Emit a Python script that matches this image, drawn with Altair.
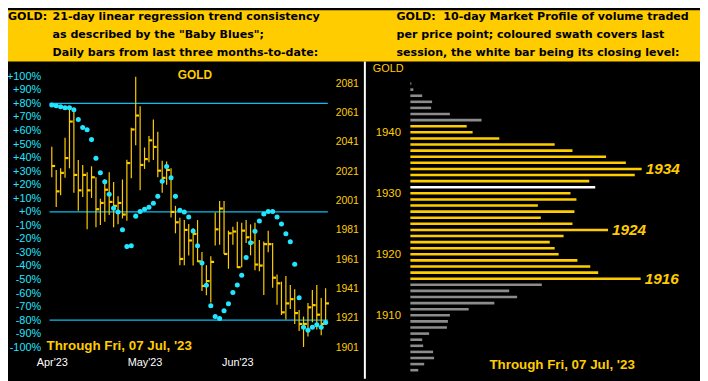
import altair as alt
import pandas as pd

# ---------------- Left panel data: daily bars (USD) and "Baby Blues" (%) ----------------
highs = [2037.8, 2021.9, 2023.0, 2043.9, 2065.3, 2063.0, 2028.6, 2025.3, 2020.3, 2024.4,
         2016.9, 2002.3, 2015.4, 2020.3, 2013.6, 2003.9, 2015.4, 2028.9, 2050.7, 2085.5,
         2065.3, 2037.2, 2045.0, 2056.3, 2048.0, 2028.2, 2027.7, 2023.0, 1997.4, 1989.3,
         1987.7, 1985.0, 1982.1, 1987.7, 1965.9, 1956.9, 1963.0, 1992.9, 2000.8, 2000.8,
         1980.5, 1983.2, 1986.6, 1985.9, 1987.7, 1984.8, 1985.9, 1974.2, 1973.1, 1980.5,
         1972.0, 1950.6, 1945.7, 1949.5, 1943.5, 1940.5, 1926.4, 1921.9, 1931.1, 1940.1,
         1943.5, 1934.5, 1941.2]
lows = [2016.9, 1996.7, 2004.6, 2016.5, 2023.0, 2006.4, 1994.0, 2003.5, 1981.4, 2002.8,
        1982.8, 1984.3, 1986.6, 1991.1, 1982.8, 1984.8, 1988.8, 1987.3, 2016.3, 2038.7,
        2008.0, 2022.6, 2027.1, 2028.6, 2016.9, 2006.4, 2011.8, 1989.5, 1978.7, 1956.9,
        1956.9, 1963.5, 1956.7, 1959.2, 1939.4, 1936.5, 1931.5, 1970.4, 1970.9, 1964.6,
        1954.5, 1970.9, 1955.1, 1955.6, 1972.0, 1963.7, 1953.5, 1952.9, 1936.7, 1965.7,
        1941.6, 1930.0, 1923.0, 1919.9, 1927.0, 1916.9, 1912.0, 1901.2, 1908.4, 1918.0,
        1913.1, 1909.1, 1916.3]
closes = [2024.6, 2007.3, 2019.9, 2030.0, 2054.9, 2018.5, 2008.0, 2018.5, 2008.0, 2016.9,
          1995.1, 1999.4, 2008.4, 2000.1, 1997.4, 1999.4, 1991.5, 2026.6, 2049.5, 2059.0,
          2025.3, 2029.3, 2042.1, 2037.6, 2021.4, 2016.5, 2021.9, 1993.3, 1986.2, 1961.2,
          1981.0, 1973.8, 1978.3, 1959.6, 1942.8, 1946.1, 1959.2, 1981.4, 1995.6, 1964.6,
          1978.7, 1979.9, 1955.6, 1980.5, 1976.0, 1972.4, 1957.4, 1956.7, 1971.3, 1971.3,
          1948.4, 1944.6, 1924.8, 1930.9, 1933.8, 1924.3, 1916.9, 1916.9, 1928.2, 1929.7,
          1923.2, 1916.9, 1930.9]
baby_blues = [78.8, 78.3, 77.6, 76.8, 76.8, 75.4, 68.1, 62.3, 60.6, 53.3,
              39.5, 28.9, 22.1, 12.9, 2.7, -0.2, -13.3, -25.7, -25.0, -3.2,
              0.2, 1.9, 3.4, 6.3, 11.4, 22.5, 33.5, 25.2, 11.4, 1.2,
              -0.2, -3.9, -14.1, -25.0, -37.8, -54.3, -69.3, -77.3, -78.8, -73.0,
              -67.9, -59.6, -54.1, -46.8, -33.7, -22.8, -14.3, -6.8, -1.7, 0.2,
              0.2, -3.9, -9.0, -16.2, -22.1, -38.8, -63.5, -85.3, -87.5, -85.3,
              -83.4, -85.3, -81.7]
month_labels = ["Apr'23", "May'23", "Jun'23"]
month_bar_index = [0, 21, 42]
pct_ticks = [-100, -90, -80, -70, -60, -50, -40, -30, -20, -10, 0,
             10, 20, 30, 40, 50, 60, 70, 80, 90, 100]
price_ticks = [1901, 1921, 1941, 1961, 1981, 2001, 2021, 2041, 2061, 2081]
trend_levels = [80, 0, -80]

# ---------------- Right panel data: 10-day market profile ----------------
profile_prices = [1948, 1947, 1946, 1945, 1944, 1943, 1942, 1941, 1940, 1939,
                  1938, 1937, 1936, 1935, 1934, 1933, 1932, 1931, 1930, 1929,
                  1928, 1927, 1926, 1925, 1924, 1923, 1922, 1921, 1920, 1919,
                  1918, 1917, 1916, 1915, 1914, 1913, 1912, 1911, 1910, 1909,
                  1908, 1907, 1906, 1905, 1904, 1903, 1902, 1901]
profile_volume = [3, 9, 36, 66, 63, 120, 216, 171, 189, 270,
                  438, 492, 594, 654, 702, 681, 543, 561, 486, 504,
                  387, 498, 396, 492, 600, 465, 423, 438, 450, 507,
                  546, 570, 699, 399, 300, 324, 255, 177, 120, 114,
                  111, 57, 36, 39, 69, 72, 42, 24]
swath_low, swath_high = 1916, 1941
close_level = 1931
peak_labels = [1934, 1924, 1916]
profile_ticks = [1910, 1920, 1930, 1940]

W, H = 700, 373
GOLD = "#FFCC00"
CYAN = "#22E6FF"
LINE = "#0BBEF0"
FONT = "Liberation Sans"
HFONT = "DejaVu Sans"

n = len(highs)
bars = pd.DataFrame({"i": list(range(n)), "high": highs, "low": lows,
                     "close": closes, "bb": baby_blues})
bars["i2"] = bars["i"] + 0.75
levels = pd.DataFrame({"lvl": trend_levels})
levels["x0"] = -0.5
levels["x1"] = n - 0.5

prof = pd.DataFrame({"p": profile_prices, "v": profile_volume})
prof["kind"] = ["close" if p == close_level else ("swath" if swath_low <= p <= swath_high else "other")
                for p in profile_prices]
peaks = prof[prof["p"].isin(peak_labels)].copy()
peaks["lab"] = peaks["p"].astype(str)

# ---------------- scales ----------------
def sc(domain, rng):
    return alt.Scale(domain=domain, range=rng, nice=False, zero=False, padding=0)

xs = sc([0, n - 1], [44.3, 321.3])
pct_s = sc([-100, 100], [341, 67])
price_s = sc([1901, 2081], [341, 74])
vol_s = sc([0, 702], [407, 641])
prof_s = sc([1900, 1950], [370.4, 61.9])

base_axis = dict(domain=False, ticks=False, grid=False, title=None, labelFont=FONT,
                 labelOverlap=False)

month_expr = "[" + ",".join('"%s"' % m for m in month_labels) + "][indexof([" + \
    ",".join(str(v) for v in month_bar_index) + "], datum.value)]"

def txt(text, x, y, font=FONT, **kw):
    return alt.Chart(pd.DataFrame({"t": [text]})).mark_text(font=font, **kw).encode(
        text="t:N", x=alt.value(x), y=alt.value(y))

# header
header = alt.Chart(pd.DataFrame({"a": [0]})).mark_rect(color=GOLD).encode(
    x=alt.value(0), x2=alt.value(W), y=alt.value(0), y2=alt.value(52))
hdr = dict(font=HFONT, fontSize=11.2, fontWeight="bold", color="black", align="left",
           baseline="middle")
header_texts = [
    txt("GOLD:", 0, 7, **hdr),
    txt("21-day linear regression trend consistency", 45, 7, **hdr),
    txt('as described by the "Baby Blues";', 45, 25, **hdr),
    txt("Daily bars from last three months-to-date:", 45, 43, **hdr),
    txt("GOLD:\u00a0 10-day Market Profile of volume traded", 393, 7, **hdr),
    txt("per price point; coloured swath covers last", 393, 25, **hdr),
    txt("session, the white bar being its closing level:", 393, 43, **hdr),
]

# left panel
lvl_layer = alt.Chart(levels).mark_rule(color=LINE, strokeWidth=1.2).encode(
    x=alt.X("x0:Q", scale=xs, axis=None), x2="x1:Q",
    y=alt.Y("lvl:Q", scale=pct_s, axis=None))

hl_layer = alt.Chart(bars).mark_rule(color=GOLD, strokeWidth=1.2).encode(
    x=alt.X("i:Q", scale=xs, axis=None),
    y=alt.Y("low:Q", scale=price_s,
            axis=alt.Axis(orient="right", offset=-(W - 329), values=price_ticks, format="d",
                          labelColor=GOLD, labelFontSize=10.5, labelPadding=2, **base_axis)),
    y2="high:Q")

close_layer = alt.Chart(bars).mark_rule(color=GOLD, strokeWidth=2.2).encode(
    x=alt.X("i:Q", scale=xs, axis=None), x2="i2:Q",
    y=alt.Y("close:Q", scale=price_s, axis=None))

dot_layer = alt.Chart(bars).mark_point(filled=True, size=26, color=CYAN, opacity=1).encode(
    x=alt.X("i:Q", scale=xs,
            axis=alt.Axis(orient="bottom", offset=-(H - 349), values=month_bar_index,
                          labelExpr=month_expr, labelColor="white", labelFontSize=11,
                          labelPadding=1, labelFlush=False, **base_axis)),
    y=alt.Y("bb:Q", scale=pct_s,
            axis=alt.Axis(orient="left", offset=-35, values=pct_ticks,
                          labelExpr="(datum.value >= 0 ? '+' : '') + datum.value + '%'",
                          labelColor=CYAN, labelFontSize=11, labelPadding=2, **base_axis)))

left_texts = [
    txt("GOLD", 189, 66, fontSize=12, fontWeight="bold", color=GOLD, align="center",
        baseline="middle"),
    txt("Through Fri, 07 Jul, '23", 39, 340, fontSize=13.5, fontWeight="bold", color=GOLD,
        align="left", baseline="middle"),
]

# right panel
prof_layer = alt.Chart(prof).mark_bar(orient="horizontal", size=2.6).encode(
    x=alt.X("v:Q", scale=vol_s, axis=None),
    y=alt.Y("p:Q", scale=prof_s,
            axis=alt.Axis(orient="left", offset=-399, values=profile_ticks, format="d",
                          labelColor=GOLD, labelFontSize=11.5, labelPadding=2, **base_axis)),
    color=alt.Color("kind:N", legend=None,
                    scale=alt.Scale(domain=["swath", "close", "other"],
                                    range=[GOLD, "#FFFFFF", "#8C8C8C"])))

peak_layer = alt.Chart(peaks).mark_text(font=FONT, fontSize=15.5, fontWeight="bold",
                                        fontStyle="italic", color=GOLD, align="left",
                                        baseline="middle", dx=4).encode(
    x=alt.X("v:Q", scale=vol_s, axis=None),
    y=alt.Y("p:Q", scale=prof_s, axis=None),
    text="lab:N")

right_texts = [
    txt("GOLD", 369, 60, fontSize=11, color=GOLD, align="left", baseline="middle"),
    txt("Through Fri, 07 Jul, '23", 487, 359, fontSize=13.5, fontWeight="bold", color=GOLD,
        align="left", baseline="middle"),
]

divider = alt.Chart(pd.DataFrame({"a": [0]})).mark_rule(color="white", strokeWidth=2).encode(
    x=alt.value(361), y=alt.value(52), y2=alt.value(H))

chart = alt.layer(
    header, *header_texts,
    lvl_layer, hl_layer, close_layer, dot_layer, *left_texts,
    prof_layer, peak_layer, *right_texts, divider
).resolve_scale(x="independent", y="independent", color="independent").properties(
    width=W, height=H, autosize=alt.AutoSizeParams(type="none"), padding=0
).configure(background="black").configure_view(stroke=None)

chart.save("out.html", embed_options={"renderer": "svg", "actions": False})
